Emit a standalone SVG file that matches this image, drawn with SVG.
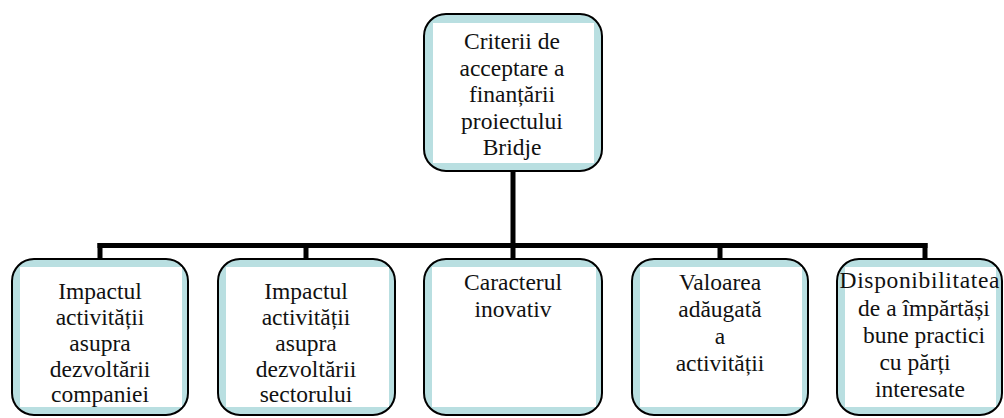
<svg xmlns="http://www.w3.org/2000/svg" width="1004" height="418" viewBox="0 0 1004 418" style="font-family:'Liberation Serif','Times New Roman',Times,serif">
<style>
.box{fill:#b9dfe1;stroke:#000;stroke-width:2}
.inner{fill:#fff}
text{font-family:'Liberation Serif','Times New Roman',Times,serif;font-size:23.5px;fill:#111;text-anchor:middle}
.c{stroke:#000;stroke-width:5;fill:none}
</style>
<rect width="1004" height="418" fill="#fff"/>
<g id="connectors">
<line class="c" x1="513" y1="171" x2="513" y2="245.5"/>
<line class="c" x1="97.5" y1="245.5" x2="927.5" y2="245.5"/>
<line class="c" x1="100" y1="243" x2="100" y2="259"/>
<line class="c" x1="306" y1="243" x2="306" y2="259"/>
<line class="c" x1="513" y1="243" x2="513" y2="259"/>
<line class="c" x1="720" y1="243" x2="720" y2="259"/>
<line class="c" x1="925" y1="243" x2="925" y2="259"/>
</g>
<g id="root">
<rect class="box" x="424" y="14" width="178" height="157" rx="22"/>
<rect class="inner" x="433" y="23" width="161" height="140"/>
<text x="512" y="49">Criterii de</text>
<text x="512" y="75.5">acceptare a</text>
<text x="512" y="102">finanțării</text>
<text x="512" y="128.5">proiectului</text>
<text x="512" y="155">Bridje</text>
</g>
<g id="n1">
<rect class="box" x="12" y="259" width="176" height="156" rx="22"/>
<rect class="inner" x="20" y="267" width="162" height="140"/>
<text x="100" y="299">Impactul</text>
<text x="100" y="325">activității</text>
<text x="100" y="351">asupra</text>
<text x="100" y="377">dezvoltării</text>
<text x="100" y="402">companiei</text>
</g>
<g id="n2">
<rect class="box" x="218" y="259" width="177" height="156" rx="22"/>
<rect class="inner" x="226" y="267" width="163" height="140"/>
<text x="306" y="299">Impactul</text>
<text x="306" y="325">activității</text>
<text x="306" y="351">asupra</text>
<text x="306" y="377">dezvoltării</text>
<text x="306" y="402">sectorului</text>
</g>
<g id="n3">
<rect class="box" x="424" y="259" width="178" height="156" rx="22"/>
<rect class="inner" x="432" y="267" width="164" height="140"/>
<text x="513" y="290">Caracterul</text>
<text x="513" y="317">inovativ</text>
</g>
<g id="n4">
<rect class="box" x="632" y="259" width="176" height="156" rx="22"/>
<rect class="inner" x="640" y="267" width="162" height="140"/>
<text x="720" y="290">Valoarea</text>
<text x="720" y="317">adăugată</text>
<text x="720" y="344">a</text>
<text x="720" y="371">activității</text>
</g>
<g id="n5">
<rect class="box" x="837" y="259" width="165" height="156" rx="22"/>
<rect class="inner" x="845" y="267" width="151" height="140"/>
<text x="919.5" y="288" textLength="160" lengthAdjust="spacing">Disponibilitatea</text>
<text x="924" y="316">de a împărtăși</text>
<text x="924" y="343">bune practici</text>
<text x="915" y="370">cu părți</text>
<text x="920" y="397">interesate</text>
</g>
</svg>
